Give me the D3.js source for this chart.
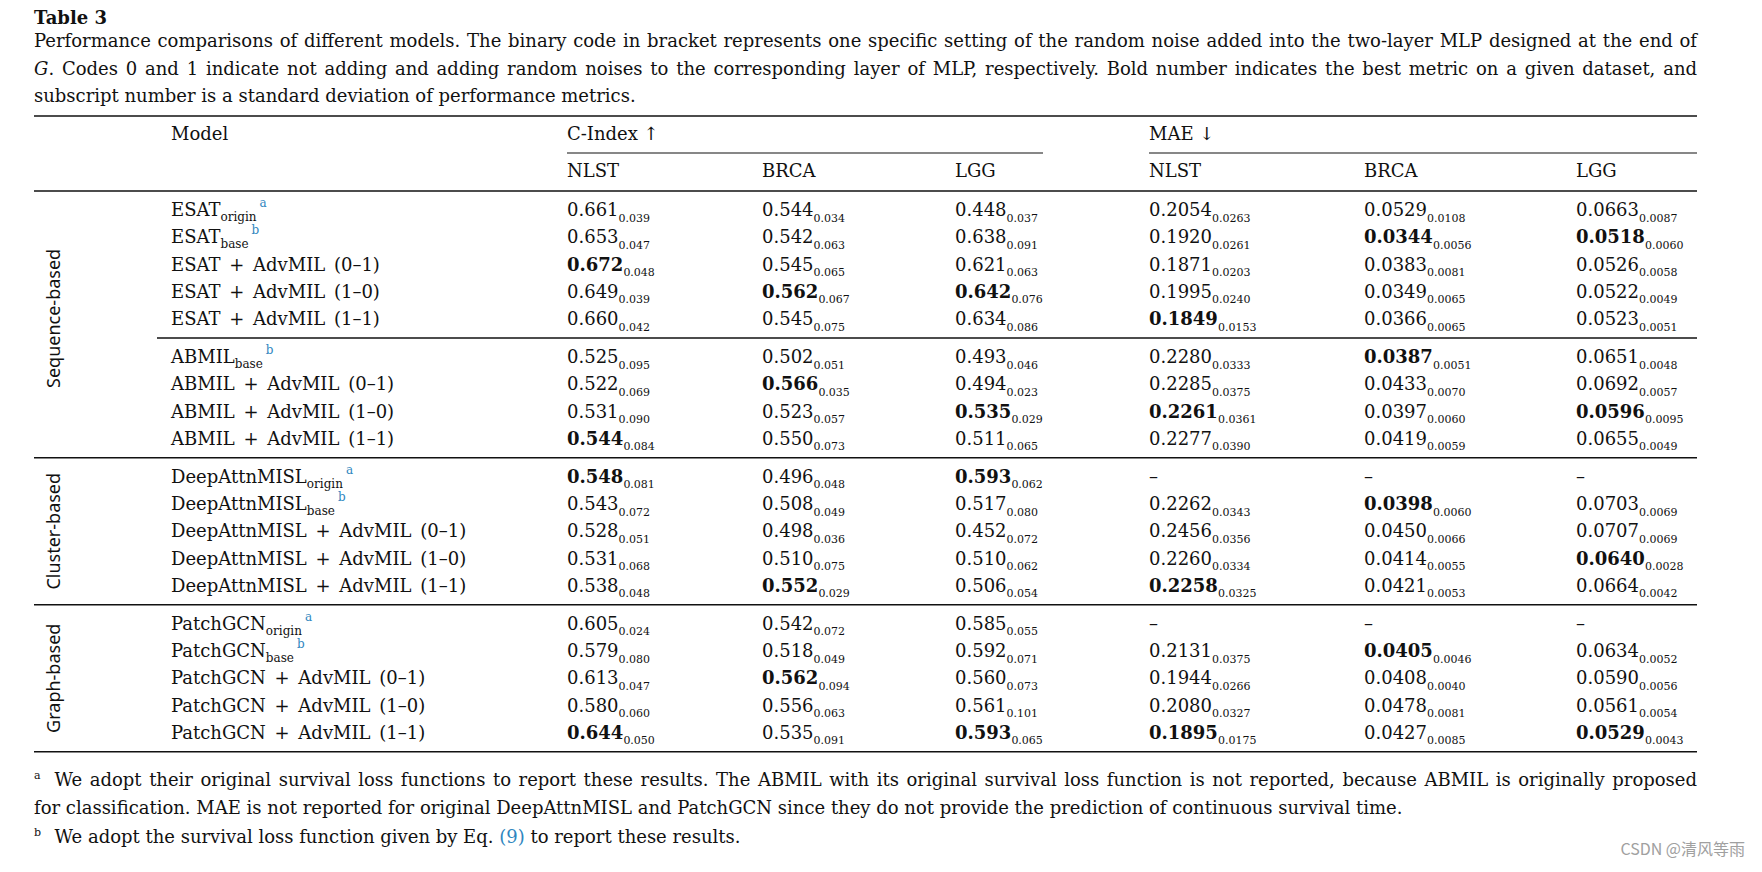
<!DOCTYPE html>
<html>
<head>
<meta charset="utf-8">
<script src="https://cdn.jsdelivr.net/npm/d3@7"></script>
<style>
  body { margin: 0; background: #fff; }
  svg { display: block; }
  text { font-family: 'DejaVu Serif', serif; fill: #111; }
  text.sans { font-family: 'Noto Sans', 'Open Sans', sans-serif; }
  text.mark { font-family: 'Noto Sans CJK SC', 'Noto Sans', sans-serif; fill: #a0a0a0; }
</style>
</head>
<body>
<div id="table"></div>
<script>
// ---- table content ----
const groupLabels = ['Sequence-based', 'Cluster-based', 'Graph-based'];
const groupBlocks = [[0, 1], [2], [3]];

const modelNames = [
  'ESAT', 'ESAT', 'ESAT + AdvMIL (0–1)', 'ESAT + AdvMIL (1–0)', 'ESAT + AdvMIL (1–1)',
  'ABMIL', 'ABMIL + AdvMIL (0–1)', 'ABMIL + AdvMIL (1–0)', 'ABMIL + AdvMIL (1–1)',
  'DeepAttnMISL', 'DeepAttnMISL', 'DeepAttnMISL + AdvMIL (0–1)', 'DeepAttnMISL + AdvMIL (1–0)', 'DeepAttnMISL + AdvMIL (1–1)',
  'PatchGCN', 'PatchGCN', 'PatchGCN + AdvMIL (0–1)', 'PatchGCN + AdvMIL (1–0)', 'PatchGCN + AdvMIL (1–1)'
];
const modelSubs = ['origin', 'base', '', '', '', 'base', '', '', '', 'origin', 'base', '', '', '', 'origin', 'base', '', '', ''];
const modelNotes = ['a', 'b', '', '', '', 'b', '', '', '', 'a', 'b', '', '', '', 'a', 'b', '', '', ''];
const rowBlock = [0, 0, 0, 0, 0, 1, 1, 1, 1, 2, 2, 2, 2, 2, 3, 3, 3, 3, 3];

const datasets = ['NLST', 'BRCA', 'LGG'];

const cNLST = [0.661, 0.653, 0.672, 0.649, 0.660, 0.525, 0.522, 0.531, 0.544, 0.548, 0.543, 0.528, 0.531, 0.538, 0.605, 0.579, 0.613, 0.580, 0.644];
const cNLSTsd = [0.039, 0.047, 0.048, 0.039, 0.042, 0.095, 0.069, 0.090, 0.084, 0.081, 0.072, 0.051, 0.068, 0.048, 0.024, 0.080, 0.047, 0.060, 0.050];
const cBRCA = [0.544, 0.542, 0.545, 0.562, 0.545, 0.502, 0.566, 0.523, 0.550, 0.496, 0.508, 0.498, 0.510, 0.552, 0.542, 0.518, 0.562, 0.556, 0.535];
const cBRCAsd = [0.034, 0.063, 0.065, 0.067, 0.075, 0.051, 0.035, 0.057, 0.073, 0.048, 0.049, 0.036, 0.075, 0.029, 0.072, 0.049, 0.094, 0.063, 0.091];
const cLGG = [0.448, 0.638, 0.621, 0.642, 0.634, 0.493, 0.494, 0.535, 0.511, 0.593, 0.517, 0.452, 0.510, 0.506, 0.585, 0.592, 0.560, 0.561, 0.593];
const cLGGsd = [0.037, 0.091, 0.063, 0.076, 0.086, 0.046, 0.023, 0.029, 0.065, 0.062, 0.080, 0.072, 0.062, 0.054, 0.055, 0.071, 0.073, 0.101, 0.065];

const mNLST = [0.2054, 0.1920, 0.1871, 0.1995, 0.1849, 0.2280, 0.2285, 0.2261, 0.2277, null, 0.2262, 0.2456, 0.2260, 0.2258, null, 0.2131, 0.1944, 0.2080, 0.1895];
const mNLSTsd = [0.0263, 0.0261, 0.0203, 0.0240, 0.0153, 0.0333, 0.0375, 0.0361, 0.0390, null, 0.0343, 0.0356, 0.0334, 0.0325, null, 0.0375, 0.0266, 0.0327, 0.0175];
const mBRCA = [0.0529, 0.0344, 0.0383, 0.0349, 0.0366, 0.0387, 0.0433, 0.0397, 0.0419, null, 0.0398, 0.0450, 0.0414, 0.0421, null, 0.0405, 0.0408, 0.0478, 0.0427];
const mBRCAsd = [0.0108, 0.0056, 0.0081, 0.0065, 0.0065, 0.0051, 0.0070, 0.0060, 0.0059, null, 0.0060, 0.0066, 0.0055, 0.0053, null, 0.0046, 0.0040, 0.0081, 0.0085];
const mLGG = [0.0663, 0.0518, 0.0526, 0.0522, 0.0523, 0.0651, 0.0692, 0.0596, 0.0655, null, 0.0703, 0.0707, 0.0640, 0.0664, null, 0.0634, 0.0590, 0.0561, 0.0529];
const mLGGsd = [0.0087, 0.0060, 0.0058, 0.0049, 0.0051, 0.0048, 0.0057, 0.0095, 0.0049, null, 0.0069, 0.0069, 0.0028, 0.0042, null, 0.0052, 0.0056, 0.0054, 0.0043];

const metrics = [
  { key: 'cNLST', mean: cNLST, sd: cNLSTsd, fmt: d3.format('.3f'), best: d3.max },
  { key: 'cBRCA', mean: cBRCA, sd: cBRCAsd, fmt: d3.format('.3f'), best: d3.max },
  { key: 'cLGG', mean: cLGG, sd: cLGGsd, fmt: d3.format('.3f'), best: d3.max },
  { key: 'mNLST', mean: mNLST, sd: mNLSTsd, fmt: d3.format('.4f'), best: d3.min },
  { key: 'mBRCA', mean: mBRCA, sd: mBRCAsd, fmt: d3.format('.4f'), best: d3.min },
  { key: 'mLGG', mean: mLGG, sd: mLGGsd, fmt: d3.format('.4f'), best: d3.min }
];

const captionLines = [
  'Performance comparisons of different models. The binary code in bracket represents one specific setting of the random noise added into the two-layer MLP designed at the end of',
  '. Codes 0 and 1 indicate not adding and adding random noises to the corresponding layer of MLP, respectively. Bold number indicates the best metric on a given dataset, and',
  'subscript number is a standard deviation of performance metrics.'
];

// ---- layout ----
const width = 1762, height = 872;
const left = 34, right = 1697;
const ink = '#111';
const blue = '#2f86c0';

const svg = d3.select('#table')
  .append('svg')
  .attr('width', width)
  .attr('height', height);

const colX = d3.scaleOrdinal()
  .domain(['model', 'cNLST', 'cBRCA', 'cLGG', 'mNLST', 'mBRCA', 'mLGG'])
  .range([171, 567, 762, 955, 1149, 1364, 1576]);

// row baselines: rows 27.25px apart, extra gap at every rule
const rowY = d3.scaleLinear().domain([0, 1]).range([216, 243.25]);
const blockGap = 10.75 / 27.25;
function yOf(i) { return rowY(i + rowBlock[i] * blockGap); }

function justify(sel, target) {
  const natural = sel.node().getComputedTextLength();
  const spaces = (sel.text().match(/ /g) || []).length;
  sel.attr('word-spacing', (target - natural) / spaces);
  const now = sel.node().getComputedTextLength();
  if (Math.abs(now - target) > 2) {
    sel.attr('word-spacing', null)
      .attr('textLength', target)
      .attr('lengthAdjust', 'spacing');
  }
}

// caption
svg.append('text')
  .attr('x', left).attr('y', 24)
  .attr('font-size', 18).attr('font-weight', 'bold')
  .text('Table 3');

const cap1 = svg.append('text').attr('x', left).attr('y', 47).attr('font-size', 18).text(captionLines[0]);
justify(cap1, right - left);

const cap2 = svg.append('text').attr('x', left).attr('y', 75).attr('font-size', 18);
cap2.append('tspan').attr('font-style', 'italic').text('G');
cap2.append('tspan').text(captionLines[1]);
justify(cap2, right - left);

svg.append('text').attr('x', left).attr('y', 102).attr('font-size', 18).text(captionLines[2]);

// rules
function rule(x1, x2, y, w) {
  svg.append('line')
    .attr('x1', x1).attr('x2', x2)
    .attr('y1', y).attr('y2', y)
    .attr('stroke', ink)
    .attr('stroke-width', w);
}
rule(left, right, 116, 1.5);
rule(colX('cNLST'), 1043, 153, 1.2);
rule(colX('mNLST'), right, 153, 1.2);
rule(left, right, 191, 1.5);

const blockEnds = d3.range(4).map(b => yOf(d3.max(d3.range(rowBlock.length).filter(i => rowBlock[i] === b))) + 13);
blockEnds.forEach((y, b) => rule(b === 0 ? 157 : left, right, y, 1.5));

// headers
svg.append('text').attr('x', colX('model')).attr('y', 140).attr('font-size', 18).text('Model');
svg.append('text').attr('x', colX('cNLST')).attr('y', 140).attr('font-size', 18).text('C-Index ↑');
svg.append('text').attr('x', colX('mNLST')).attr('y', 140).attr('font-size', 18).text('MAE ↓');

metrics.forEach((m, j) => {
  svg.append('text')
    .attr('x', colX(m.key)).attr('y', 177)
    .attr('font-size', 18)
    .text(datasets[j % 3]);
});

// group labels, rotated
const blockStarts = [191].concat(blockEnds.slice(0, 3));
groupLabels.forEach((label, g) => {
  const b = groupBlocks[g];
  let mid = (blockStarts[b[0]] + blockEnds[b[b.length - 1]]) / 2;
  if (g === 0) mid -= 6;
  svg.append('text')
    .attr('class', 'sans')
    .attr('transform', `translate(60, ${mid}) rotate(-90)`)
    .attr('text-anchor', 'middle')
    .attr('font-size', 18)
    .text(label);
});

// model column
modelNames.forEach((name, i) => {
  const t = svg.append('text')
    .attr('x', colX('model')).attr('y', yOf(i))
    .attr('font-size', 18)
    .attr('word-spacing', 3);
  t.append('tspan').text(name);
  if (modelSubs[i]) {
    t.append('tspan').attr('font-size', 12).attr('dy', 5).text(modelSubs[i]);
  }
  if (modelNotes[i]) {
    t.append('tspan')
      .attr('font-size', 12)
      .attr('dx', 3)
      .attr('dy', modelSubs[i] ? -14 : -9)
      .style('fill', blue)
      .text(modelNotes[i]);
  }
});

// metric cells, best value of each block in bold
metrics.forEach(m => {
  const bestByBlock = d3.range(4).map(b =>
    m.best(m.mean.filter((v, i) => rowBlock[i] === b && v !== null)));
  m.mean.forEach((v, i) => {
    const t = svg.append('text')
      .attr('x', colX(m.key)).attr('y', yOf(i))
      .attr('font-size', 18);
    if (v === null) {
      t.text('–');
      return;
    }
    t.append('tspan')
      .attr('font-weight', v === bestByBlock[rowBlock[i]] ? 'bold' : null)
      .text(m.fmt(v));
    t.append('tspan')
      .attr('font-size', 11)
      .attr('dy', 5.5)
      .text(m.fmt(m.sd[i]));
  });
});

// footnotes
svg.append('text').attr('x', left).attr('y', 779).attr('font-size', 11).text('a');
const fn1 = svg.append('text').attr('x', 54.5).attr('y', 786).attr('font-size', 18)
  .text('We adopt their original survival loss functions to report these results. The ABMIL with its original survival loss function is not reported, because ABMIL is originally proposed');
justify(fn1, right - 54.5);
svg.append('text').attr('x', left).attr('y', 814).attr('font-size', 18)
  .text('for classification. MAE is not reported for original DeepAttnMISL and PatchGCN since they do not provide the prediction of continuous survival time.');

svg.append('text').attr('x', left).attr('y', 836).attr('font-size', 11).text('b');
const fn2 = svg.append('text').attr('x', 54.5).attr('y', 843).attr('font-size', 18);
fn2.append('tspan').text('We adopt the survival loss function given by Eq. ');
fn2.append('tspan').style('fill', blue).text('(9)');
fn2.append('tspan').text(' to report these results.');

// watermark
svg.append('text')
  .attr('class', 'mark')
  .attr('x', 1745).attr('y', 855)
  .attr('text-anchor', 'end')
  .attr('font-size', 16)
  .text('CSDN @清风等雨');
</script>
</body>
</html>
